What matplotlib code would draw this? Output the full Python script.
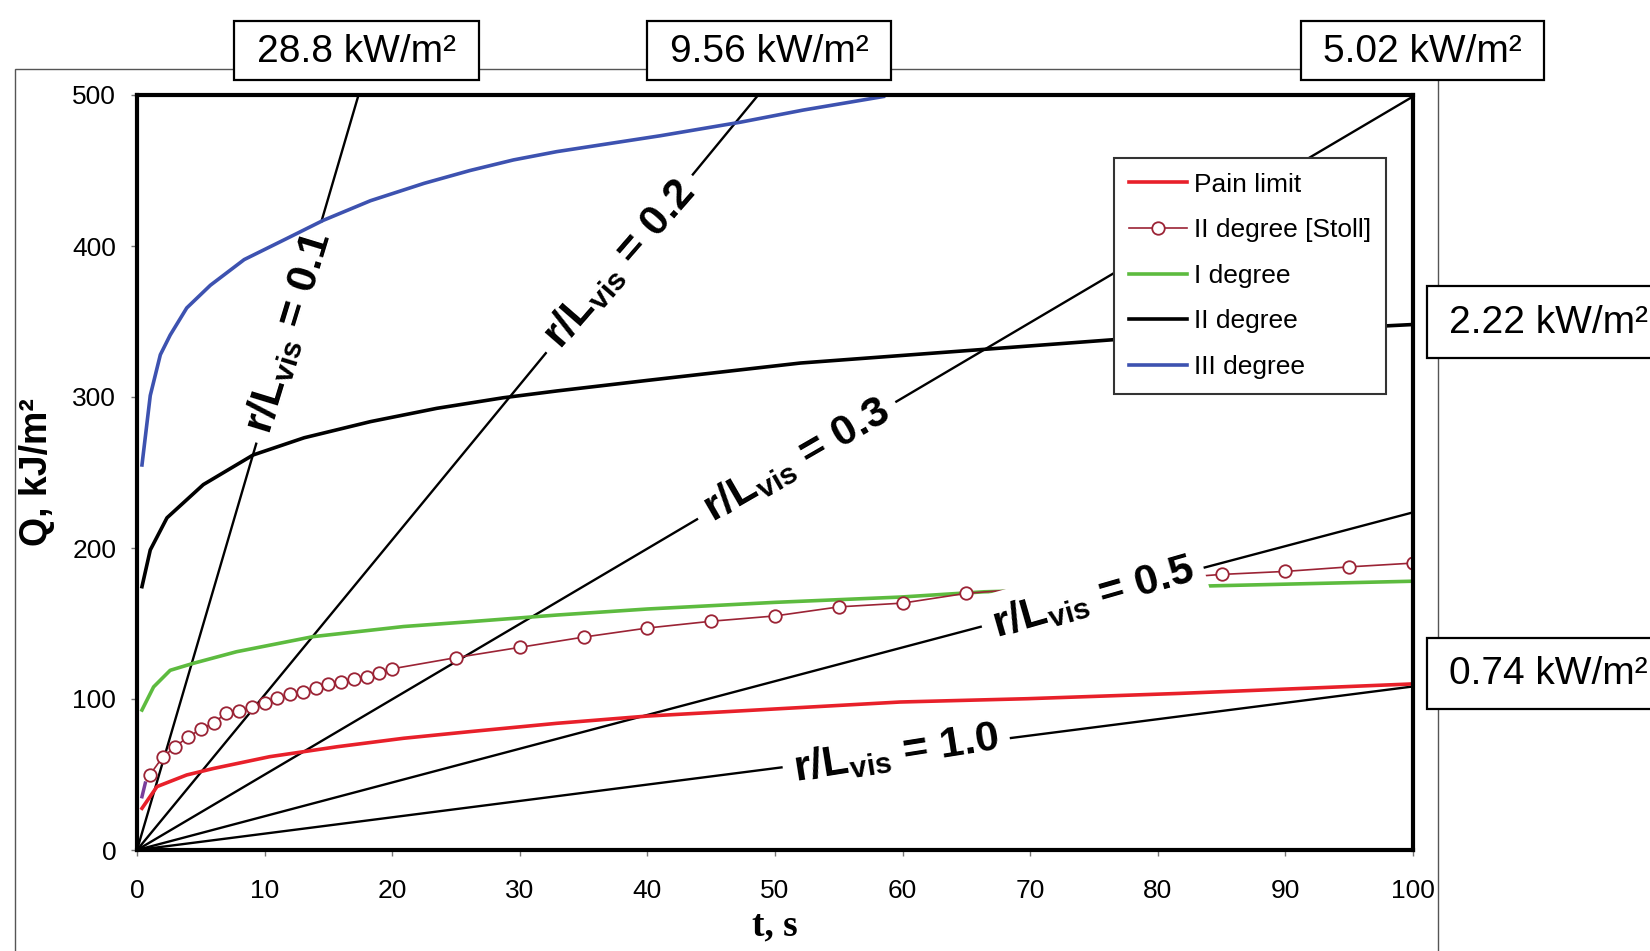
import matplotlib
matplotlib.use('Agg')
import matplotlib.pyplot as plt
from matplotlib.patches import Rectangle

# --- values (t in s, Q in kJ/m2) ---
pain_t = [0.39, 1.57, 3.9, 6, 10.4, 15.7, 20.9, 26.1, 32.9, 40, 50, 59.8, 69.8, 81.7, 100]
pain_q = [27.6, 42, 49.7, 54, 61.8, 68.4, 74, 78.4, 83.9, 88.7, 93.4, 98, 100.2, 103.7, 110]

stoll_t = list(range(1, 21)) + [25, 30, 35, 40, 45, 50, 55, 60, 65, 85, 90, 95, 100]
stoll_q = [49.7, 61.4, 68.4, 75, 79.9, 84.3, 90.5, 92, 95, 97.6, 100.4, 103.3, 104.6, 107.5,
           109.7, 111, 113, 114.8, 117, 120,
           127.4, 134.2, 141, 147, 151.5, 155, 161, 163.5, 170, 182.5, 184.5, 187.5, 190]

# short purple stub under the first Stoll point
stub_t = [0.39, 0.65]
stub_q = [35.3, 44.3]

deg1_t = [0.39, 1.3, 2.6, 4.4, 7.8, 13.8, 20.9, 26.1, 32.9, 40, 50, 59.8, 66.4, 84.6, 100]
deg1_q = [92.7, 108, 119, 123.6, 131.3, 141.3, 148, 151.2, 155.6, 159.6, 164, 167.5, 171, 175, 178]

deg2_t = [0.39, 1.04, 2.35, 5.2, 9.1, 13.1, 18.3, 23.5, 28.7, 32.9, 40, 52, 65.5, 76.6, 100]
deg2_q = [174.4, 198.7, 220, 242, 261.6, 273, 283.7, 292.5, 299.5, 304, 311, 322.5, 331, 338, 348]

deg3_t = [0.39, 1.04, 1.83, 2.6, 3.9, 5.75, 8.4, 11.75, 14.6, 18.3, 22.5, 26.1, 29.5, 32.9,
          41, 47.3, 52.2, 58.5]
deg3_q = [255, 301, 328, 341, 359, 374, 391, 405, 417, 430, 441.5, 450, 457, 462.5,
          473, 482, 490, 499]

# straight rays Q = slope * t, one per r/Lvis value
ratio_labels = ['0.1', '0.2', '0.3', '0.5', '1.0']
ray_slopes = [28.8, 10.27, 4.99, 2.236, 1.083]
label_t = [11.9, 37.8, 51.7, 74.9, 59.5]
label_rot = [73, 49, 30, 16, 9]
label_z = [2.5, 2.5, 2.5, 4, 2.5]

flux_labels = ['28.8 kW/m²', '9.56 kW/m²', '5.02 kW/m²', '2.22 kW/m²', '0.74 kW/m²']

plt.rcParams['font.family'] = 'Liberation Sans'
plt.rcParams['mathtext.fontset'] = 'custom'
plt.rcParams['mathtext.rm'] = 'Liberation Sans:bold'
plt.rcParams['mathtext.it'] = 'Liberation Sans:bold:italic'
plt.rcParams['mathtext.bf'] = 'Liberation Sans:bold'

W, H = 1650, 951
fig = plt.figure(figsize=(W / 100, H / 100), dpi=100)
fig.patch.set_facecolor('white')


def px_rect(x0, y0, x1, y1, **kw):
    # rectangle given in figure pixels, origin top-left
    r = Rectangle((x0 / W, 1 - y1 / H), (x1 - x0) / W, (y1 - y0) / H,
                  transform=fig.transFigure, **kw)
    fig.add_artist(r)
    return r


# thin outer chart-area frame
px_rect(15, 69, 1438, 1000, fill=False, edgecolor='#555555', linewidth=1.0, zorder=0)

ax = fig.add_axes([137 / W, 1 - 850 / H, 1276 / W, 755 / H])
ax.set_facecolor('white')

# rays
for s in ray_slopes:
    ax.plot([0, 100], [0, s * 100], color='black', linewidth=1.7, zorder=2)

# curves
ax.plot(stub_t, stub_q, color='#7a3d9a', linewidth=2.5, zorder=2.9)
h_pain, = ax.plot(pain_t, pain_q, color='#e8202a', linewidth=2.6, zorder=3)
h_deg1, = ax.plot(deg1_t, deg1_q, color='#5dbb3f', linewidth=2.6, zorder=3)
h_deg2, = ax.plot(deg2_t, deg2_q, color='black', linewidth=2.6, zorder=3)
h_deg3, = ax.plot(deg3_t, deg3_q, color='#3d52b0', linewidth=2.6, zorder=3)
h_stoll, = ax.plot(stoll_t, stoll_q, color='#9b2335', linewidth=1.2, marker='o',
                   markersize=9, markerfacecolor='white', markeredgecolor='#9b2335',
                   markeredgewidth=1.3, zorder=3.2)

# r/Lvis labels sitting on their rays
for lab, s, t, rot, z in zip(ratio_labels, ray_slopes, label_t, label_rot, label_z):
    ax.text(t, s * t, r'r/L$_{\mathrm{vis}}$ = ' + lab, rotation=rot,
            rotation_mode='anchor', ha='center', va='center', fontsize=31,
            fontweight='bold', zorder=z,
            bbox=dict(boxstyle='square,pad=0.25', facecolor='white', edgecolor='none'))

ax.set_xlim(0, 100)
ax.set_ylim(0, 500)
ax.set_xticks(range(0, 101, 10))
ax.set_yticks(range(0, 501, 100))
for sp in ax.spines.values():
    sp.set_linewidth(3)
    sp.set_zorder(6)
ax.tick_params(direction='out', length=4, width=1, color='#777777', labelsize=19)
ax.tick_params(axis='x', pad=17)
ax.tick_params(axis='y', pad=11)

ax.set_xlabel('t, s', fontsize=27, fontweight='bold', family='Liberation Serif')
ax.xaxis.set_label_coords(0.5, -0.078)
ax.set_ylabel('Q, kJ/m²', fontsize=27, fontweight='bold')
ax.yaxis.set_label_coords(-0.064, 0.5)

leg = ax.legend([h_pain, h_stoll, h_deg1, h_deg2, h_deg3],
                ['Pain limit', 'II degree [Stoll]', 'I degree', 'II degree', 'III degree'],
                loc='upper left', bbox_to_anchor=((1114 - 137) / 1276, (850 - 158) / 755),
                borderaxespad=0, prop={'size': 19},
                fancybox=False, framealpha=1, edgecolor='#333333',
                borderpad=0.55, labelspacing=0.82, handlelength=2.2, handletextpad=0.3)
leg.get_frame().set_linewidth(1.5)
leg.set_zorder(5)

# heat-flux boxes around the plot
flux_boxes = [(234, 21, 479, 80), (647, 21, 891, 80), (1301, 21, 1544, 80),
              (1427, 286, 1700, 358), (1427, 638, 1700, 709)]
for lab, (x0, y0, x1, y1) in zip(flux_labels, flux_boxes):
    px_rect(x0, y0, x1, y1, facecolor='white', edgecolor='black', linewidth=1.6, zorder=7)
    if x1 > W:
        fig.text(1449 / W, 1 - ((y0 + y1) / 2 + 1) / H, lab, fontsize=28,
                 ha='left', va='center', zorder=8)
    else:
        fig.text((x0 + x1) / 2 / W, 1 - ((y0 + y1) / 2 + 1) / H, lab, fontsize=28,
                 ha='center', va='center', zorder=8)

fig.savefig('out.png', dpi=100)
